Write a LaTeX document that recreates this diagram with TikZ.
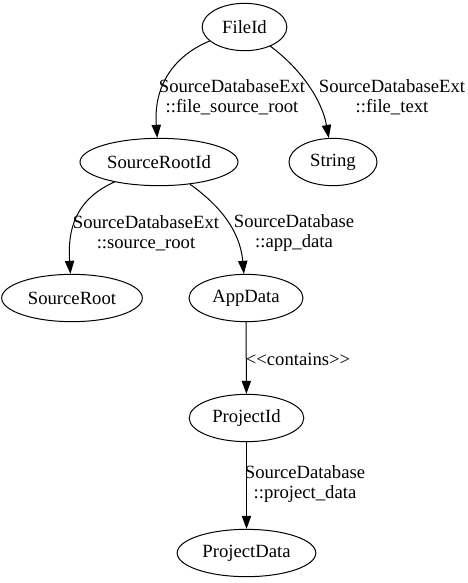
\documentclass[tikz,border=0pt]{standalone}
\usepackage{fontspec}
\setmainfont{Liberation Serif}
\usetikzlibrary{arrows.meta,shapes.geometric}

\begin{document}
\begin{tikzpicture}[x=0.75pt,y=-0.75pt,
  every node/.style={font=\fontsize{14}{15}\selectfont},
  entity/.style={draw,ellipse,line width=0.75pt,inner sep=0pt,minimum height=35.5pt},
  rel/.style={line width=0.75pt,-{Triangle[length=9.75pt,width=7pt]}},
  tag/.style={align=center,inner sep=0pt}]
  \useasboundingbox (0,0) rectangle (468,583);
  % entities
  \node[entity,minimum width=63.5pt] (fileid) at (244.5,27) {FileId};
  \node[entity,minimum width=118.5pt] (srcrootid) at (159,162) {SourceRootId};
  \node[entity,minimum width=66pt] (string) at (333,162) {String};
  \node[entity,minimum width=105.5pt] (srcroot) at (72,298) {SourceRoot};
  \node[entity,minimum width=85.5pt] (appdata) at (246,298) {AppData};
  \node[entity,minimum width=86pt] (projid) at (246.5,418) {ProjectId};
  \node[entity,minimum width=104pt] (projdata) at (246.5,553) {ProjectData};
  % relations
  \draw[rel] (fileid) .. controls (180,53) and (153,80) .. (srcrootid);
  \draw[rel] (fileid) .. controls (301,69) and (322,100) .. (string);
  \draw[rel] (srcrootid) .. controls (81,197) and (67,222) .. (srcroot);
  \draw[rel] (srcrootid) .. controls (219,205) and (240,230) .. (appdata);
  \draw[rel] (appdata) -- (projid);
  \draw[rel] (projid) -- (projdata);
  % labels
  \node[tag] (lblfsr) at (232,97) {SourceDatabaseExt\\::file\_source\_root};
  \node[tag] (lblft) at (392,97) {SourceDatabaseExt\\::file\_text};
  \node[tag] (lblsr) at (146,233) {SourceDatabaseExt\\::source\_root};
  \node[tag] (lblad) at (294,233) {SourceDatabase\\::app\_data};
  \node[tag] (lblcont) at (298,359) {<{}<contains>{}>};
  \node[tag] (lblpd) at (305,484) {SourceDatabase\\::project\_data};
\end{tikzpicture}
\end{document}
